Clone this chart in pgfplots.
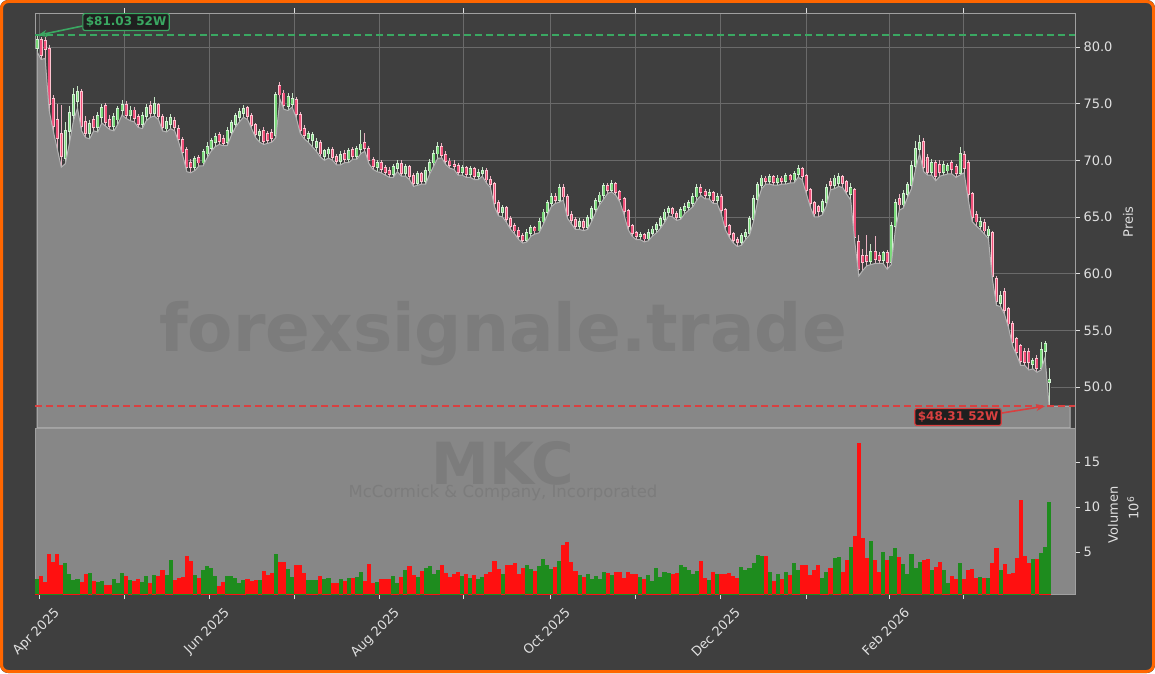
\documentclass[border=0pt]{standalone}
\usepackage{pgfplots}
\pgfplotsset{compat=1.18}
\usepackage{pgfplotstable}
\usepackage{fontspec}
\setmainfont{DejaVu Sans}
\usetikzlibrary{arrows.meta}

\definecolor{bg}{HTML}{3F3F3F}
\definecolor{area}{HTML}{878787}
\definecolor{arealine}{HTML}{B4B4B4}
\definecolor{wm}{HTML}{7C7C7C}
\definecolor{framec}{HTML}{A0A0A0}
\definecolor{gridc}{HTML}{6A6A6A}
\definecolor{txt}{HTML}{E0E0E0}
\definecolor{upfill}{HTML}{7DDC7D}
\definecolor{upedge}{HTML}{D4F0D4}
\definecolor{dnfill}{HTML}{F0507A}
\definecolor{dnedge}{HTML}{FFC4D0}
\definecolor{upwick}{HTML}{C4E4C4}
\definecolor{dnwick}{HTML}{EBB2C2}
\definecolor{vup}{HTML}{1E8C1E}
\definecolor{vdn}{HTML}{FF1010}
\definecolor{wkhigh}{HTML}{3AA862}
\definecolor{wklow}{HTML}{D94040}
\definecolor{brd}{HTML}{FF6600}

\newcommand\tk{\fontsize{13}{15}\selectfont}

% MKC daily candles: index, open, high, low, close, volume (mio), up flag
\pgfplotstableread{
i o h l c v u
0 79.9 81.03 79.6 80.6 2.0 1
1 80.6 80.9 78.9 79.3 2.3 0
2 80.5 80.9 79.0 79.8 1.7 0
3 79.8 80.2 74.4 75.0 4.8 0
4 75.4 75.8 72.6 73.0 3.9 0
5 73.6 75.0 71.0 72.0 4.8 0
6 72.3 74.9 69.4 70.4 3.5 0
7 70.2 73.4 69.7 72.6 3.8 1
8 72.6 74.8 71.5 74.2 2.5 1
9 74.0 76.4 73.5 75.8 1.9 1
10 75.2 76.6 74.6 76.0 2.0 1
11 76.0 76.3 72.6 73.0 1.7 0
12 73.4 73.9 72.0 72.4 2.5 0
13 72.4 73.6 71.9 73.2 2.7 1
14 73.6 73.9 72.6 72.9 1.8 0
15 72.9 74.3 72.5 73.9 1.7 1
16 73.8 75.0 73.3 74.6 1.8 1
17 74.8 75.1 73.0 73.4 1.3 0
18 73.6 74.0 72.7 73.0 1.3 0
19 73.0 74.2 72.6 73.8 2.0 1
20 73.6 74.8 73.2 74.5 1.5 1
21 74.4 75.3 74.0 74.9 2.7 1
22 74.9 75.2 73.7 74.0 2.3 0
23 74.0 74.8 73.5 74.4 1.9 1
24 74.4 74.7 73.4 73.7 1.8 0
25 73.8 74.1 72.9 73.2 2.0 0
26 73.2 74.3 72.8 73.9 1.7 1
27 73.9 75.0 73.5 74.6 2.3 1
28 74.8 75.2 73.8 74.2 1.6 0
29 74.2 75.6 73.9 75.0 2.4 1
30 74.9 75.1 73.6 73.9 2.3 0
31 73.8 74.1 72.6 72.9 3.0 0
32 72.8 73.8 72.5 73.4 2.4 1
33 73.2 74.1 72.8 73.7 4.1 1
34 73.5 73.8 72.6 72.9 1.9 0
35 72.8 73.1 71.6 71.9 2.1 0
36 71.8 72.1 70.4 70.7 2.2 0
37 70.9 71.2 69.0 69.4 4.6 0
38 69.8 70.1 68.9 69.4 4.0 0
39 69.4 70.4 69.1 70.1 2.4 1
40 70.2 70.5 69.5 69.8 2.1 0
41 69.8 71.0 69.5 70.7 3.0 1
42 70.6 71.6 70.2 71.2 3.4 1
43 71.1 72.0 70.8 71.7 3.2 1
44 71.6 72.4 71.2 72.1 2.3 1
45 72.2 72.5 71.4 71.7 1.2 0
46 71.9 72.2 71.3 71.5 1.7 0
47 71.6 72.9 71.3 72.6 2.3 1
48 72.5 73.6 72.2 73.3 2.3 1
49 73.2 74.2 72.9 73.9 2.1 1
50 73.8 74.6 73.4 74.3 1.6 1
51 74.2 74.9 73.8 74.5 1.9 1
52 74.6 74.8 73.6 73.9 2.0 0
53 73.9 74.2 72.8 73.1 1.8 0
54 73.1 73.3 72.0 72.3 1.9 0
55 72.2 72.8 71.6 72.5 1.9 1
56 72.6 72.9 71.4 71.7 2.9 0
57 72.3 72.6 71.5 71.8 2.4 0
58 72.4 72.8 71.6 72.0 2.7 0
59 72.2 76.0 72.0 75.8 4.8 1
60 76.6 76.9 75.4 75.8 3.9 0
61 75.9 76.2 74.5 74.9 3.9 0
62 74.8 75.9 74.4 75.6 3.1 1
63 75.0 75.9 74.7 75.4 2.2 1
64 75.3 75.6 73.8 74.1 3.5 0
65 74.0 74.3 72.4 72.7 3.5 0
66 72.8 73.1 71.9 72.2 2.7 0
67 72.0 72.6 71.6 72.3 1.9 1
68 71.8 72.5 71.2 72.2 1.9 1
69 71.2 72.0 70.8 71.6 1.9 1
70 71.5 71.8 70.3 70.6 2.3 0
71 70.4 71.0 70.0 70.8 2.0 1
72 70.6 71.2 70.2 70.9 2.1 1
73 70.9 71.2 70.0 70.3 1.6 0
74 70.3 70.6 69.6 69.9 1.6 0
75 69.9 70.8 69.6 70.5 2.0 1
76 70.6 70.9 69.8 70.1 1.8 0
77 70.1 71.1 69.8 70.8 2.1 1
78 70.9 71.2 70.1 70.4 2.1 0
79 70.4 71.3 70.1 71.0 2.2 1
80 71.0 72.7 70.6 71.4 2.8 1
81 71.5 72.4 70.8 71.1 1.8 0
82 71.0 71.3 69.7 70.0 3.7 0
83 70.0 70.3 69.2 69.5 1.5 0
84 69.4 70.0 69.0 69.8 1.7 1
85 69.8 70.0 68.9 69.2 2.0 0
86 69.3 69.6 68.7 69.0 2.0 0
87 69.1 69.4 68.5 68.8 2.0 0
88 68.8 69.7 68.5 69.4 2.3 1
89 69.3 70.0 69.0 69.7 1.6 1
90 69.7 70.0 68.6 68.9 2.2 0
91 68.9 69.7 68.6 69.4 3.0 1
92 69.4 69.6 68.3 68.6 3.4 0
93 68.6 68.9 67.7 68.0 2.4 0
94 68.0 69.1 67.8 68.8 2.2 1
95 68.8 69.0 67.9 68.2 2.9 0
96 68.2 69.4 67.9 69.1 3.2 1
97 69.1 70.1 68.8 69.8 3.4 1
98 69.8 70.9 69.5 70.6 2.6 1
99 70.6 71.6 70.2 71.2 3.0 1
100 71.2 71.5 70.2 70.5 3.5 0
101 70.5 70.8 69.6 69.9 2.7 0
102 69.9 70.2 69.3 69.6 2.2 0
103 69.6 70.0 69.2 69.5 2.5 0
104 69.5 69.8 68.7 69.0 2.8 0
105 69.0 69.6 68.7 69.3 2.3 1
106 69.3 69.5 68.5 68.8 2.6 0
107 68.8 69.5 68.5 69.2 2.1 1
108 69.2 69.4 68.3 68.6 2.4 0
109 68.6 69.2 68.3 68.9 2.0 1
110 68.9 69.4 68.6 69.1 2.2 1
111 69.1 69.3 68.0 68.3 2.6 0
112 68.3 68.6 67.6 67.9 2.8 0
113 67.9 68.1 65.9 66.2 4.0 0
114 66.2 66.5 65.1 65.4 3.1 0
115 65.4 66.1 65.0 65.8 2.5 1
116 65.8 66.0 64.5 64.8 3.6 0
117 64.8 65.1 63.9 64.2 3.5 0
118 64.2 64.5 63.5 63.8 3.8 0
119 63.8 64.1 63.0 63.3 2.6 0
120 63.3 63.6 62.7 63.0 3.2 0
121 63.0 63.9 62.8 63.6 3.5 1
122 63.6 64.3 63.3 64.0 3.1 1
123 64.0 64.2 63.5 63.8 2.9 0
124 63.8 64.9 63.6 64.6 3.4 1
125 64.6 65.7 64.3 65.4 4.2 1
126 65.4 66.5 65.1 66.2 3.6 1
127 66.2 67.1 65.9 66.8 3.1 1
128 66.8 67.1 66.2 66.5 3.3 0
129 66.5 67.9 66.3 67.6 4.0 1
130 67.6 67.9 66.5 66.8 5.8 0
131 66.8 67.0 64.9 65.2 6.1 0
132 65.2 65.5 64.4 64.7 3.9 0
133 64.7 65.0 63.9 64.2 2.9 0
134 64.2 64.9 63.9 64.6 2.4 1
135 64.6 64.8 63.8 64.1 2.2 0
136 64.1 65.2 63.9 64.9 2.6 1
137 64.9 66.0 64.6 65.7 2.0 1
138 65.7 66.7 65.4 66.4 2.3 1
139 66.4 67.2 66.1 66.9 2.0 1
140 66.9 68.0 66.6 67.7 2.8 1
141 67.7 68.0 67.1 67.4 2.7 0
142 67.4 68.3 67.2 67.9 2.4 1
143 67.9 68.1 66.9 67.2 2.8 0
144 67.2 67.4 66.3 66.6 2.8 0
145 66.6 66.8 65.2 65.5 2.1 0
146 65.5 65.7 63.9 64.2 2.8 0
147 64.2 64.4 63.3 63.6 2.5 0
148 63.6 63.8 63.0 63.3 2.6 0
149 63.3 63.7 63.0 63.4 2.2 1
150 63.4 63.6 62.8 63.1 2.0 0
151 63.1 63.9 62.9 63.6 2.4 1
152 63.6 64.2 63.3 63.9 1.8 1
153 63.9 64.6 63.6 64.3 3.2 1
154 64.3 65.1 64.0 64.8 2.2 1
155 64.8 65.7 64.5 65.4 2.8 1
156 65.4 66.0 65.1 65.7 2.7 1
157 65.7 65.9 65.0 65.3 2.5 0
158 65.3 65.5 64.7 65.0 2.7 0
159 65.0 65.9 64.8 65.6 3.5 1
160 65.6 66.2 65.3 65.9 3.3 1
161 65.9 66.5 65.6 66.2 3.0 1
162 66.2 67.1 65.9 66.8 2.6 1
163 66.8 67.9 66.5 67.6 2.9 1
164 67.6 67.9 66.9 67.2 4.0 0
165 67.2 67.5 66.6 66.9 2.1 0
166 66.9 67.5 66.6 67.1 1.9 1
167 67.1 67.3 66.2 66.5 2.8 0
168 66.5 67.1 66.2 66.8 2.5 1
169 66.8 67.0 65.3 65.6 2.6 0
170 65.6 65.8 63.9 64.2 2.5 0
171 64.2 64.4 63.2 63.5 2.7 0
172 63.5 63.7 62.7 63.0 2.3 0
173 63.0 63.2 62.4 62.8 2.1 0
174 62.8 63.6 62.5 63.3 3.3 1
175 63.3 63.9 63.0 63.6 3.0 1
176 63.6 65.1 63.4 64.8 3.2 1
177 64.8 66.9 64.6 66.6 3.8 1
178 66.6 68.1 66.4 67.8 4.7 1
179 67.8 68.7 67.5 68.4 4.6 1
180 68.4 68.6 67.9 68.2 4.5 0
181 68.2 68.8 67.9 68.5 2.8 1
182 68.5 68.7 67.8 68.1 1.8 0
183 68.1 68.7 67.8 68.4 2.6 1
184 68.4 68.6 67.9 68.2 2.0 0
185 68.2 68.9 67.9 68.6 2.8 1
186 68.6 68.8 68.0 68.3 2.4 0
187 68.3 69.1 68.0 68.8 3.8 1
188 68.8 69.6 68.5 69.2 3.0 1
189 69.2 69.4 68.3 68.6 3.6 0
190 68.6 68.8 67.1 67.4 3.5 0
191 67.4 67.6 65.9 66.2 2.4 0
192 66.2 66.4 65.0 65.3 3.0 0
193 65.9 66.1 65.0 65.5 3.5 0
194 65.5 66.6 65.2 66.3 2.1 1
195 66.3 67.9 66.0 67.6 2.8 1
196 68.1 68.4 67.4 67.8 3.2 0
197 67.8 68.7 67.5 68.4 4.3 1
198 68.0 68.9 67.7 68.5 4.4 1
199 68.5 68.7 67.6 68.0 2.8 0
200 68.1 68.3 67.0 67.3 4.1 0
201 67.0 68.0 66.5 67.6 5.6 1
202 67.4 67.6 62.8 63.2 6.8 0
203 62.8 63.4 59.8 60.4 17.1 0
204 61.6 62.2 60.3 61.0 6.6 0
205 61.6 63.4 60.7 61.1 4.3 0
206 61.1 62.6 60.8 61.9 6.2 1
207 61.9 63.3 60.9 61.3 4.1 0
208 61.6 61.9 60.9 61.2 2.8 0
209 61.2 62.0 60.9 61.8 5.0 1
210 61.8 62.1 60.4 61.0 4.1 0
211 61.0 64.6 60.8 64.2 4.6 1
212 64.2 66.6 63.8 66.2 5.4 1
213 66.6 67.0 65.6 66.1 4.4 0
214 66.1 67.4 65.8 67.0 3.7 1
215 67.0 68.1 66.7 67.8 2.5 1
216 67.8 69.9 67.5 69.5 4.8 1
217 69.5 71.7 69.2 71.0 3.2 1
218 71.0 72.2 70.6 71.5 3.9 1
219 71.6 72.0 69.0 69.4 4.1 0
220 70.2 70.6 68.7 69.0 4.2 0
221 69.0 70.1 68.7 69.8 3.0 1
222 69.8 70.0 68.2 68.6 3.3 0
223 69.6 70.0 68.6 69.0 3.9 0
224 69.0 69.9 68.7 69.6 3.0 1
225 69.1 69.8 68.8 69.5 1.5 1
226 69.8 70.0 68.8 69.2 2.3 0
227 69.4 69.7 68.5 68.9 2.0 0
228 68.9 71.2 68.7 70.6 3.8 1
229 70.5 70.8 68.9 69.3 2.0 0
230 69.8 70.0 66.6 67.0 3.0 0
231 67.0 67.2 64.6 65.0 3.1 0
232 65.2 65.5 64.2 64.6 2.1 0
233 64.2 65.0 63.9 64.6 2.2 1
234 64.5 64.8 63.5 63.8 2.1 0
235 63.4 64.2 63.1 63.9 2.1 1
236 63.6 63.8 59.5 59.8 3.8 0
237 59.5 59.8 57.2 57.6 5.4 0
238 57.4 58.5 57.1 58.0 3.0 1
239 58.4 58.7 56.4 56.8 3.7 0
240 56.9 57.1 55.2 55.6 2.5 0
241 55.6 55.8 53.6 54.0 2.7 0
242 54.2 54.4 52.8 53.1 4.3 0
243 53.6 53.8 51.9 52.3 10.8 0
244 53.1 53.4 51.9 52.2 4.5 0
245 53.1 53.4 51.5 52.2 3.8 0
246 52.0 52.6 51.6 52.3 4.2 1
247 52.5 52.8 51.3 51.7 4.2 0
248 51.7 54.0 51.5 53.3 4.9 1
249 53.2 54.1 52.6 53.8 5.6 1
250 50.4 51.7 48.31 50.6 10.6 1
255.2 48.31 48.31 48.31 48.31 0 2
}\mkc

\pgfplotsset{
  panel/.style={scale only axis, width=1040pt, anchor=south west,
    xmin=-0.5, xmax=256.4,
    axis line style={framec, line width=0.8pt},
    tick align=outside, major tick length=5pt, minor tick length=5pt,
    every tick/.style={txt, line width=0.8pt},
    yticklabel pos=right, ytick pos=right,
    tick label style={txt, font=\tk},
    /pgf/number format/assume math mode=true,
    xtick={0.5,42.5,84.5,126.7,168.7,210.5},
    minor xtick={21.5,63.5,105.2,147.7,190,228.8}},
  comb/.style={ycomb, mark=none, line cap=butt, draw=#1},
}
% up rows give (u==1), down rows (u==0); other rows collapse to zero height
\def\isup{(\thisrow{u}==1)}
\def\isdn{(\thisrow{u}==0)}
\def\top{max(\thisrow{o},\thisrow{c})}
\def\bot{min(\thisrow{o},\thisrow{c})}

\begin{document}
\begin{tikzpicture}
\path[use as bounding box] (0,0) rectangle (1155pt,673pt);
\fill[white] (0,0) rectangle (1155pt,673pt);
\fill[bg, rounded corners=8pt] (0,0) rectangle (1155pt,673pt);

% price panel
\begin{axis}[panel, at={(35pt,245pt)}, height=415pt,
  ymin=46.38, ymax=83.0, ytick={50,55,...,80},
  yticklabel style={/pgf/number format/fixed, /pgf/number format/fixed zerofill,
    /pgf/number format/precision=1},
  xticklabels={}, xmajorticks=false, xminorticks=false,
  grid=both, major grid style={gridc, line width=0.8pt},
  minor grid style={gridc, line width=0.8pt},
  clip mode=individual]
% candles, drawn as stacked combs; the low area is laid over them last
\addplot[comb=upwick, line width=1pt] table[x=i, y expr={\isup*\thisrow{h}}] {\mkc};
\addplot[comb=dnwick, line width=1pt] table[x=i, y expr={\isdn*\thisrow{h}}] {\mkc};
\addplot[comb=upedge, line width=3pt] table[x=i, y expr={\isup*(\top+0.08)}] {\mkc};
\addplot[comb=dnedge, line width=3pt] table[x=i, y expr={\isdn*(\top+0.08)}] {\mkc};
\addplot[comb=upfill, line width=1.6pt] table[x=i, y expr={\isup*\top}] {\mkc};
\addplot[comb=dnfill, line width=1.6pt] table[x=i, y expr={\isdn*\top}] {\mkc};
\addplot[comb=upedge, line width=3pt] table[x=i, y expr={\isup*\bot}] {\mkc};
\addplot[comb=dnedge, line width=3pt] table[x=i, y expr={\isdn*\bot}] {\mkc};
\addplot[comb=bg, line width=3.2pt] table[x=i, y expr={(\thisrow{u}<2)*(\bot-0.08)}] {\mkc};
\addplot[comb=upwick, line width=1pt] table[x=i, y expr={\isup*(\bot-0.08)}] {\mkc};
\addplot[comb=dnwick, line width=1pt] table[x=i, y expr={\isdn*(\bot-0.08)}] {\mkc};
\addplot[fill=area, draw=arealine, line width=1pt] table[x=i, y=l] {\mkc} \closedcycle;
\node[text=wm, font=\bfseries\fontsize{66}{66}\selectfont] at (axis cs:115.1,54.7) {forexsignale.trade};
% 52-week high / low
\addplot[draw=wkhigh, line width=1.8pt, dash pattern=on 7pt off 4pt] coordinates {(-0.5,81.03) (256.4,81.03)};
\addplot[draw=wklow, line width=1.6pt, dash pattern=on 7pt off 4pt] coordinates {(-0.5,48.31) (256.4,48.31)};
\node[draw=wkhigh, fill=black!88, text=wkhigh, line width=1.2pt, rounded corners=2pt, inner sep=3pt,
  font=\bfseries\fontsize{12}{12}\selectfont] (hb) at (axis cs:22,82.2) {\$81.03 52W};
\draw[-{Stealth[length=9pt,width=7pt]}, wkhigh, line width=1.6pt] ([yshift=-4pt]hb.west) -- (axis cs:0.2,81.03);
\node[draw=wklow, fill=black!88, text=wklow, line width=1.2pt, rounded corners=2pt, inner sep=3pt,
  font=\bfseries\fontsize{12}{12}\selectfont] (lb) at (axis cs:227.5,47.35) {\$48.31 52W};
\draw[-{Stealth[length=9pt,width=7pt]}, wklow, line width=1.6pt] ([yshift=4pt]lb.east) -- (axis cs:249,48.31);
\end{axis}

% volume panel
\begin{axis}[panel, at={(35pt,79pt)}, height=166pt,
  ymin=0.33, ymax=18.78, ytick={5,10,15},
  axis background/.style={fill=area},
  xtick pos=bottom,
  xticklabels={Apr 2025,Jun 2025,Aug 2025,Oct 2025,Dec 2025,Feb 2026},
  xticklabel style={rotate=45, anchor=north east, xshift=8pt, yshift=-12pt}]
\node[text=wm, font=\bfseries\fontsize{58}{58}\selectfont] at (axis cs:115.1,14.8) {MKC};
\node[text=wm, font=\fontsize{16.5}{16.5}\selectfont] at (axis cs:115.1,11.6) {McCormick \& Company, Incorporated};
\addplot[comb=vup, line width=4.1pt, restrict x to domain=-1:251] table[x=i, y expr={\isup*\thisrow{v}}] {\mkc};
\addplot[comb=vdn, line width=4.1pt, restrict x to domain=-1:251] table[x=i, y expr={\isdn*\thisrow{v}}] {\mkc};
\end{axis}

\node[txt, rotate=90, font=\tk] at (1128pt,451pt) {Preis};
\node[txt, rotate=90, font=\tk] at (1113pt,158pt) {Volumen};
\node[txt, rotate=90, font=\tk] at (1133pt,165pt) {10\textsuperscript{6}};

\draw[brd, line width=3pt, rounded corners=7pt] (1.5pt,1.5pt) rectangle (1153.5pt,671.5pt);
\end{tikzpicture}
\end{document}
